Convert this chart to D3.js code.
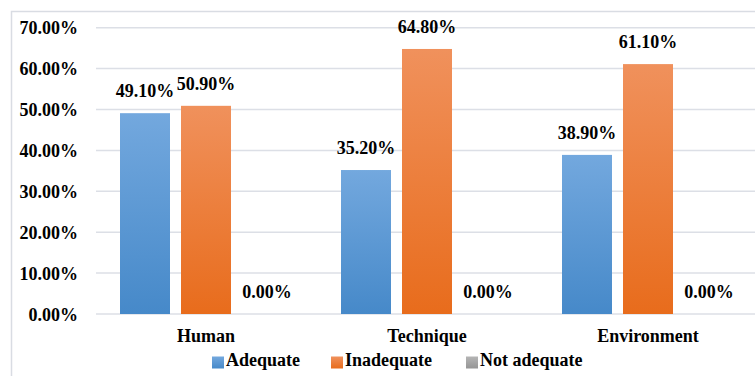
<!DOCTYPE html>
<html>
<head>
<meta charset="utf-8">
<script src="https://cdn.jsdelivr.net/npm/d3@7/dist/d3.min.js"></script>
<style>
  html, body { margin: 0; padding: 0; background: #fff; }
  svg { display: block; }
  text { font-family: "Liberation Serif", "Times New Roman", serif; font-weight: bold; fill: #000; }
</style>
</head>
<body>
<svg id="chart" width="755" height="376"></svg>
<script>
// Categories, series and values (percent)
const categories = ["Human", "Technique", "Environment"];
const seriesNames = ["Adequate", "Inadequate", "Not adequate"];
const adequate = [49.1, 35.2, 38.9];
const inadequate = [50.9, 64.8, 61.1];
const notAdequate = [0, 0, 0];
const yTicks = [0, 10, 20, 30, 40, 50, 60, 70];

const seriesValues = [adequate, inadequate, notAdequate];
const data = categories.map((c, i) => ({
  category: c,
  values: seriesNames.map((s, j) => ({ series: s, value: seriesValues[j][i] }))
}));

const svg = d3.select("#chart");

// Gradient fills per series
const palette = {
  "Adequate": ["#73a8de", "#4689c9"],
  "Inadequate": ["#f0915c", "#e86c1c"],
  "Not adequate": ["#b5b5b5", "#959595"]
};
const defs = svg.append("defs");
seriesNames.forEach((s, i) => {
  const g = defs.append("linearGradient")
    .attr("id", "grad" + i)
    .attr("x1", 0).attr("y1", 0).attr("x2", 0).attr("y2", 1);
  g.append("stop").attr("offset", "0%").attr("stop-color", palette[s][0]);
  g.append("stop").attr("offset", "100%").attr("stop-color", palette[s][1]);
});

// Outer frame (left and top edges visible)
svg.append("rect")
  .attr("x", 11.5).attr("y", 11.5)
  .attr("width", 800).attr("height", 400)
  .attr("fill", "none").attr("stroke", "#d9dce3").attr("stroke-width", 1.5);

const x0 = d3.scaleBand().domain(categories).range([95.5, 758.5]);
const x1 = d3.scaleBand().domain(seriesNames)
  .range([24.5, 24.5 + 172]).paddingInner(11 / 61);
const y = d3.scaleLinear().domain([0, 70]).range([314, 27.7]);

// Gridlines
svg.append("g")
  .selectAll("line")
  .data(yTicks)
  .join("line")
  .attr("x1", 96).attr("x2", 755)
  .attr("y1", d => y(d)).attr("y2", d => y(d))
  .attr("stroke", "#dcdfe6").attr("stroke-width", 1.5);

// Y axis labels
const yAxis = d3.axisLeft(y).tickValues(yTicks)
  .tickFormat(d => d3.format(".2f")(d) + "%").tickSize(0).tickPadding(0);
const yg = svg.append("g").attr("transform", "translate(78,0)").call(yAxis);
yg.select(".domain").remove();
yg.selectAll("text")
  .attr("font-size", 18)
  .attr("font-family", "Liberation Serif, Times New Roman, serif")
  .attr("font-weight", "bold")
  .attr("fill", "#000")
  .attr("dy", "0.34em");

// Bars
const groups = svg.append("g")
  .selectAll("g")
  .data(data)
  .join("g")
  .attr("transform", d => `translate(${x0(d.category)},0)`);

groups.selectAll("rect")
  .data(d => d.values)
  .join("rect")
  .attr("x", d => x1(d.series))
  .attr("width", x1.bandwidth())
  .attr("y", d => y(d.value))
  .attr("height", d => y(0) - y(d.value))
  .attr("fill", d => `url(#grad${seriesNames.indexOf(d.series)})`);

// Value labels
groups.selectAll("text")
  .data(d => d.values)
  .join("text")
  .attr("x", d => x1(d.series) + x1.bandwidth() / 2)
  .attr("y", d => y(d.value) - 16)
  .attr("text-anchor", "middle")
  .attr("font-size", 18)
  .text(d => d.value.toFixed(2) + "%");

// Category labels
const xAxis = d3.axisBottom(x0).tickSize(0).tickPadding(0);
const xg = svg.append("g").attr("transform", "translate(0,0)").call(xAxis);
xg.select(".domain").remove();
xg.selectAll("text")
  .attr("y", 342)
  .attr("dy", 0)
  .attr("font-size", 18)
  .attr("font-family", "Liberation Serif, Times New Roman, serif")
  .attr("font-weight", "bold")
  .attr("fill", "#000");

// Legend
const legendX = [212, 331, 466];
const legend = svg.append("g")
  .selectAll("g")
  .data(seriesNames)
  .join("g")
  .attr("transform", (d, i) => `translate(${legendX[i]},356.5)`);
legend.append("rect")
  .attr("width", 12).attr("height", 12)
  .attr("fill", (d, i) => `url(#grad${i})`);
legend.append("text")
  .attr("x", 14).attr("y", 9)
  .attr("font-size", 18)
  .text(d => d);
</script>
</body>
</html>
